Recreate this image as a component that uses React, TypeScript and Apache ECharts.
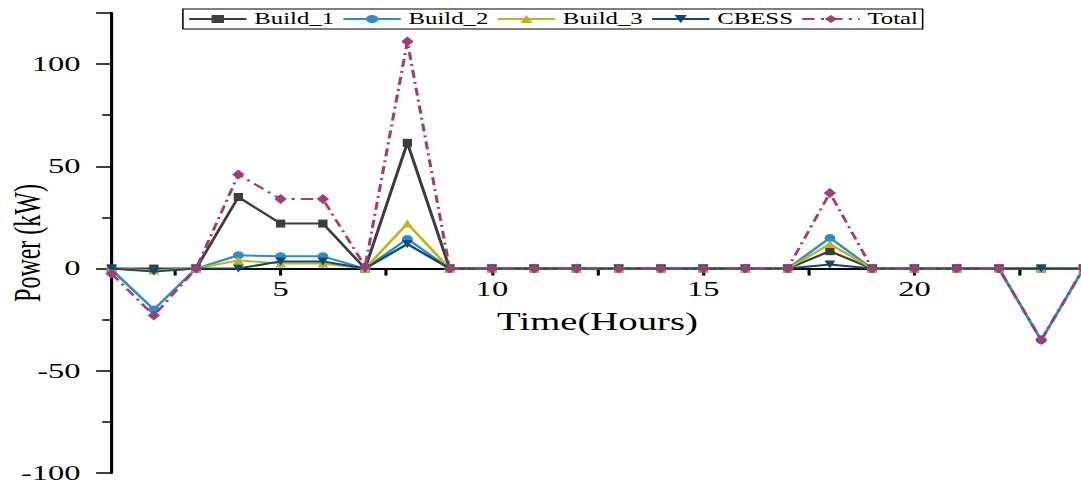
import React, { useEffect, useRef } from "react";
import * as echarts from "echarts";

const hours = [1, 2, 3, 4, 5, 6, 7, 8, 9, 10, 11, 12, 13, 14, 15, 16, 17, 18, 19, 20, 21, 22, 23, 24];
const build1 = [0, 0, 0, 35, 22, 22, 0, 61.5, 0, 0, 0, 0, 0, 0, 0, 0, 0, 8.5, 0, 0, 0, 0, 0, 0];
const build2 = [-0.5, -20, 0, 6.5, 6, 6, 0, 14.5, 0, 0, 0, 0, 0, 0, 0, 0, 0, 15, 0, 0, 0, 0, -35, 0];
const build3 = [0, -1, 0, 4, 2.5, 2.5, 0, 22, 0, 0, 0, 0, 0, 0, 0, 0, 0, 12, 0, 0, 0, 0, 0, 0];
const cbess = [0, -1.5, 0, 0, 3.5, 3.5, 0, 12, 0, 0, 0, 0, 0, 0, 0, 0, 0, 2, 0, 0, 0, 0, 0, 0];
const total = [-2.5, -23, 0, 46, 34, 34, 1, 111, 0, 0, 0, 0, 0, 0, 0, 0, 0, 37, 0, 0, 0, 0, -35, 0];

const xLabelValues = [5, 10, 15, 20];
const xTickValues = [2.5, 5, 7.5, 10, 12.5, 15, 17.5, 20, 22.5];

const seriesNames = ["Build_1", "Build_2", "Build_3", "CBESS", "Total"];
const seriesColors = ["#3d3d3d", "#2a8ec8", "#c4b20e", "#0d4a73", "#a03c76"];

const SCALE_X = 1.55;
const FONT = "'Liberation Serif', 'Times New Roman', serif";

export default function App() {
  const ref = useRef<HTMLDivElement>(null);

  useEffect(() => {
    document.body.style.margin = "0";
    document.body.style.overflow = "hidden";
    document.documentElement.style.overflow = "hidden";
    if (!ref.current) return;
    const chart = echarts.init(ref.current, undefined, { renderer: "svg" });

    const values = [build1, build2, build3, cbess, total];
    const symbols: any[] = ["rect", "circle", "triangle", "triangle", "diamond"];
    const sizes: any[] = [[6, 8], [7, 8], [7, 8], [7, 8], [8, 10]];

    const series = seriesNames.map((name, i) => ({
      name,
      type: "line",
      data: hours.map((h, k) => [h, values[i][k]]),
      symbol: symbols[i],
      symbolSize: sizes[i],
      symbolRotate: name === "CBESS" ? 180 : 0,
      showSymbol: true,
      showAllSymbol: true,
      color: seriesColors[i],
      itemStyle: { color: seriesColors[i] },
      lineStyle: {
        color: seriesColors[i],
        width: 2,
        type: name === "Total" ? [8, 4, 2, 4] : "solid",
      },
      z: 2 + i,
    }));

    chart.setOption({
      animation: false,
      backgroundColor: "#fff",
      grid: { left: 72, right: 1, top: 13, bottom: 22, outerBoundsMode: "none", containLabel: false },
      legend: {
        top: 9,
        left: 118,
        orient: "horizontal",
        itemWidth: 37,
        itemHeight: 10,
        itemGap: 5,
        padding: [2, 3],
        borderColor: "#000",
        borderWidth: 1,
        textStyle: { fontFamily: FONT, fontSize: 16, color: "#000" },
        data: seriesNames,
      },
      xAxis: {
        type: "value",
        min: 1,
        max: 24,
        name: "Time(Hours)",
        nameLocation: "middle",
        nameGap: 41,
        nameMoveOverlap: false,
        nameTextStyle: { fontFamily: FONT, fontSize: 25, color: "#000" },
        axisLine: { show: true, onZero: false, lineStyle: { color: "#000", width: 2 } },
        axisTick: { show: true, customValues: xTickValues, length: 7, lineStyle: { color: "#000", width: 2 } },
        axisLabel: { customValues: xLabelValues, fontFamily: FONT, fontSize: 21, color: "#000", margin: 10 },
        splitLine: { show: false },
      },
      yAxis: {
        type: "value",
        min: -100,
        max: 125,
        interval: 50,
        name: "Power (kW)",
        nameLocation: "middle",
        nameGap: 42,
        nameMoveOverlap: false,
        nameTextStyle: { fontFamily: FONT, fontSize: 24, color: "#000" },
        axisLine: { show: true, onZero: false, lineStyle: { color: "#000", width: 2 } },
        axisTick: { show: true, length: 10, lineStyle: { color: "#000", width: 1.5 } },
        minorTick: { show: true, splitNumber: 2, length: 6, lineStyle: { color: "#000", width: 1.5 } },
        axisLabel: { fontFamily: FONT, fontSize: 21, color: "#000", margin: 20, showMaxLabel: false },
        splitLine: { show: false },
        minorSplitLine: { show: false },
      },
      series,
    });

    // place the x axis on the zero line, using the library's own scale
    const finder = { xAxisIndex: 0, yAxisIndex: 0 };
    const pZero = chart.convertToPixel(finder, [1, 0]) as number[];
    const pBottom = chart.convertToPixel(finder, [1, -100]) as number[];
    if (pZero && pBottom) {
      chart.setOption({ xAxis: { offset: -(pBottom[1] - pZero[1]) } });
    }

    return () => chart.dispose();
  }, []);

  return (
    <div
      ref={ref}
      style={{
        position: "absolute",
        left: 0,
        top: 0,
        width: 700,
        height: 495,
        transform: `scaleX(${SCALE_X})`,
        transformOrigin: "0 0",
      }}
    />
  );
}
